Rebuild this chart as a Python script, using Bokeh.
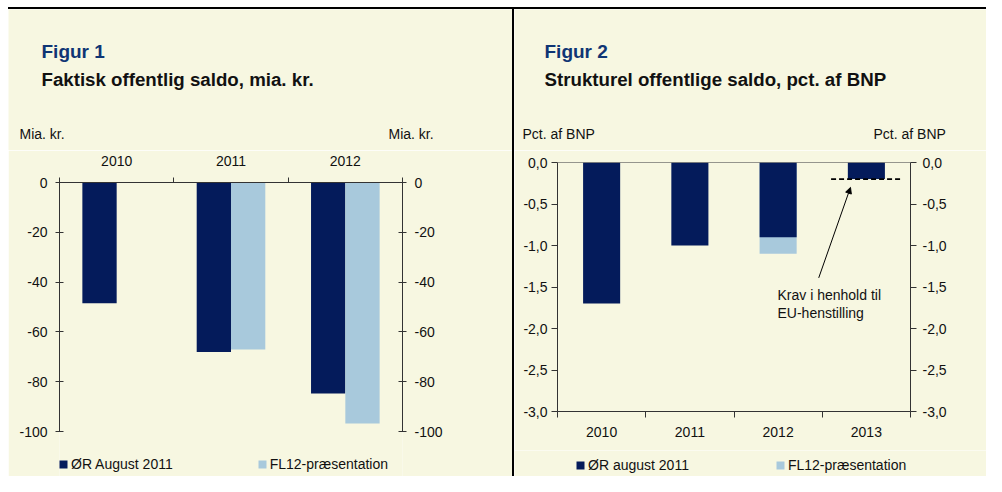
import numpy as np
from bokeh.plotting import figure
from bokeh.models import (FixedTicker, LinearAxis, Range1d, Label, Legend, LegendItem,
                          Span, Arrow, NormalHead, CustomJSTickFormatter, Spacer)
from bokeh.layouts import row, column
from bokeh.embed import file_html
from bokeh.resources import INLINE

# ---------------- data ----------------
years1 = ["2010", "2011", "2012"]
or_aug_2011_mia = np.array([-48.5, -68.1, -84.7])
fl12_mia = np.array([np.nan, -67.1, -96.8])
y1_ticks = [-100, -80, -60, -40, -20, 0]

years2 = ["2010", "2011", "2012", "2013"]
or_aug_2011_pct = np.array([-1.7, -1.0, -0.9, -0.2])
fl12_pct = np.array([np.nan, np.nan, -1.1, np.nan])
eu_krav_2013 = [-0.2]
y2_ticks = [-3.0, -2.5, -2.0, -1.5, -1.0, -0.5, 0.0]

# ---------------- style ----------------
BG = "#F7F7E1"
NAVY = "#041B5B"
LIGHT = "#A8C9DC"
TITLE = "#0F3574"
AXC = "#333333"
TXT = "#111111"
FONT = "Liberation Sans"
FS = "14px"


def style_axis(ax):
    ax.axis_line_color = AXC
    ax.major_tick_line_color = AXC
    ax.minor_tick_line_color = AXC
    ax.major_label_text_font = FONT
    ax.major_label_text_font_size = FS
    ax.major_label_text_color = TXT


def blank(width, height):
    f = figure(width=width, height=height, x_range=Range1d(0, width), y_range=Range1d(height, 0),
               output_backend="svg", toolbar_location=None, min_border=0, frame_align=False,
               x_axis_location=None, y_axis_location=None,
               background_fill_color=BG, border_fill_color=BG, outline_line_color=None)
    f.grid.visible = False
    return f


def header(width, height, texts):
    h = blank(width, height)
    for (x, y, text, size, bold, color) in texts:
        h.add_layout(Label(x=x, y=y, text=text, text_font=FONT, text_font_size=size,
                           text_font_style="bold" if bold else "normal",
                           text_color=color, text_baseline="alphabetic"))
    return h


def make_legend(items, location, spacing):
    return Legend(items=items, location=location, orientation="horizontal",
                  glyph_width=10, glyph_height=10, label_standoff=3, spacing=spacing,
                  padding=0, margin=0, border_line_color=None, background_fill_alpha=0,
                  label_text_font=FONT, label_text_font_size=FS, label_height=10,
                  label_text_color=TXT)


HEAD_H = 141

# ================= Figure 1 =================
h1 = header(504, HEAD_H, [
    (33, 42, "Figur 1", "19px", True, TITLE),
    (33, 70, "Faktisk offentlig saldo, mia. kr.", "18.7px", True, TXT),
    (11, 124, "Mia. kr.", FS, False, TXT),
    (380, 124, "Mia. kr.", FS, False, TXT),
])

P1_H, P1_TOP = 326, 32
y1_min = -100 * (P1_H - P1_TOP) / 249.0   # extra room below -100 for the legend
p1 = figure(width=504, height=P1_H, x_range=Range1d(0, 3), y_range=Range1d(y1_min, 0),
            output_backend="svg", toolbar_location=None, x_axis_location="above", frame_align=False,
            min_border_left=51, min_border_right=110, min_border_top=P1_TOP, min_border_bottom=0,
            background_fill_color=BG, border_fill_color=BG, outline_line_color=None)
p1.grid.visible = False

x1 = np.arange(len(years1)) + 0.5
r1a = p1.vbar(x=x1 - 0.15, top=or_aug_2011_mia, bottom=0, width=0.3,
              fill_color=NAVY, line_color=None)
r1b = p1.vbar(x=x1 + 0.15, top=fl12_mia, bottom=0, width=0.3,
              fill_color=LIGHT, line_color=None)

xa = p1.xaxis[0]
xa.ticker = FixedTicker(ticks=list(x1), minor_ticks=[0, 1, 2, 3])
xa.formatter = CustomJSTickFormatter(args=dict(labels=years1),
                                     code="return labels[Math.floor(tick)];")
xa.major_tick_in = 0
xa.major_tick_out = 0
xa.minor_tick_in = 0
xa.minor_tick_out = 5
xa.major_label_standoff = 12
style_axis(xa)

int_fmt = "return tick.toFixed(0);"
ya = p1.yaxis[0]
ya.ticker = FixedTicker(ticks=y1_ticks, minor_ticks=[])
ya.formatter = CustomJSTickFormatter(code=int_fmt)
ya.bounds = (-100, 0)
ya.major_tick_in = 4
ya.major_tick_out = 4
ya.major_label_standoff = 8
style_axis(ya)

ya_r = LinearAxis(ticker=FixedTicker(ticks=y1_ticks, minor_ticks=[]), bounds=(-100, 0),
                  formatter=CustomJSTickFormatter(code=int_fmt))
ya_r.major_tick_in = 4
ya_r.major_tick_out = 4
ya_r.major_label_standoff = 8
style_axis(ya_r)
p1.add_layout(ya_r, "right")

p1.add_layout(make_legend([LegendItem(label="ØR August 2011", renderers=[r1a]),
                           LegendItem(label="FL12-præsentation", renderers=[r1b])],
                          (-1, 4), 84))

# ================= Figure 2 =================
h2 = header(472, HEAD_H, [
    (30, 42, "Figur 2", "19px", True, TITLE),
    (30, 70, "Strukturel offentlige saldo, pct. af BNP", "18.7px", True, TXT),
    (8, 124, "Pct. af BNP", FS, False, TXT),
    (359, 124, "Pct. af BNP", FS, False, TXT),
])

p2 = figure(width=472, height=300, x_range=Range1d(0, 4), y_range=Range1d(-3, 0),
            output_backend="svg", toolbar_location=None, x_axis_location="below", frame_align=False,
            min_border_left=43, min_border_right=76, min_border_top=12, min_border_bottom=39,
            background_fill_color=BG, border_fill_color=BG, outline_line_color=None)
p2.grid.visible = False

x2 = np.arange(len(years2)) + 0.5
r2b = p2.vbar(x=x2, top=fl12_pct, bottom=0, width=0.42, fill_color=LIGHT, line_color=None)
r2a = p2.vbar(x=x2, top=or_aug_2011_pct, bottom=0, width=0.42, fill_color=NAVY, line_color=None)

p2.segment(x0=[x2[3] - 0.4], x1=[x2[3] + 0.4], y0=eu_krav_2013, y1=eu_krav_2013,
           line_color="black", line_width=1.6, line_dash="5 3")

p2.add_layout(Span(location=0, dimension="width", line_color=AXC, line_width=1))

xb = p2.xaxis[0]
xb.ticker = FixedTicker(ticks=list(x2), minor_ticks=[0, 1, 2, 3, 4])
xb.formatter = CustomJSTickFormatter(args=dict(labels=years2),
                                     code="return labels[Math.floor(tick)];")
xb.major_tick_in = 0
xb.major_tick_out = 0
xb.minor_tick_in = 0
xb.minor_tick_out = 6
xb.major_label_standoff = 9
style_axis(xb)

dec_fmt = "return tick.toFixed(1).replace('.', ',');"
yb = p2.yaxis[0]
yb.ticker = FixedTicker(ticks=y2_ticks, minor_ticks=[])
yb.formatter = CustomJSTickFormatter(code=dec_fmt)
yb.major_tick_in = 0
yb.major_tick_out = 6
yb.major_label_standoff = 4
style_axis(yb)

yb_r = LinearAxis(ticker=FixedTicker(ticks=y2_ticks, minor_ticks=[]),
                  formatter=CustomJSTickFormatter(code=dec_fmt))
yb_r.major_tick_in = 0
yb_r.major_tick_out = 6
yb_r.major_label_standoff = 6
style_axis(yb_r)
p2.add_layout(yb_r, "right")

p2.add_layout(Arrow(end=NormalHead(size=6, fill_color="black", line_color="black"),
                    x_start=2.96, y_start=-1.39, x_end=3.32, y_end=-0.30,
                    line_color="black", line_width=1))
p2.add_layout(Label(x=2.493, y=-1.602, text="Krav i henhold til", text_font=FONT,
                    text_font_size=FS, text_color=TXT, text_baseline="middle"))
p2.add_layout(Label(x=2.493, y=-1.819, text="EU-henstilling", text_font=FONT,
                    text_font_size=FS, text_color=TXT, text_baseline="middle"))

# legend strip under figure 2 (swatches styled like the two series above)
f2 = blank(472, 26)
s2a = f2.vbar(x=[np.nan], top=[np.nan], width=1, fill_color=NAVY, line_color=None)
s2b = f2.vbar(x=[np.nan], top=[np.nan], width=1, fill_color=LIGHT, line_color=None)
leg2 = make_legend([LegendItem(label="ØR august 2011", renderers=[s2a]),
                    LegendItem(label="FL12-præsentation", renderers=[s2b])], (61, 3), 86)
f2.add_layout(leg2)

# ================= page layout =================
top_bar = Spacer(width=978, height=2, styles={"background-color": "black"})
divider = Spacer(width=2, height=467, styles={"background-color": "black"})
panels = row(column(h1, p1), divider, column(h2, p2, f2))
layout = column(Spacer(width=986, height=7),
                row(Spacer(width=8, height=469), column(top_bar, panels)))

with open("out.html", "w") as f:
    f.write(file_html(layout, INLINE))
